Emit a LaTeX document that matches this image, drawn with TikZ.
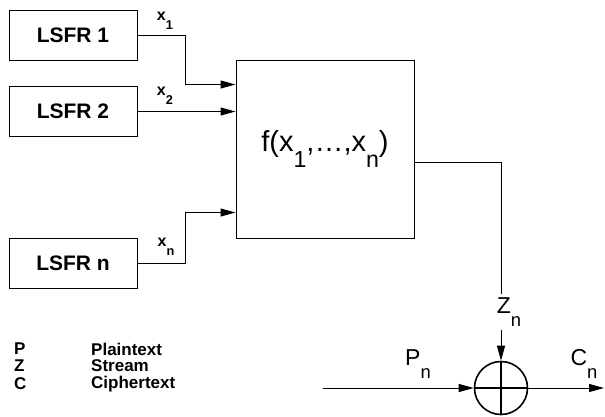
\documentclass[tikz,border=0pt]{standalone}
\usepackage{fontspec}
\setmainfont{Liberation Sans}
\usetikzlibrary{arrows.meta, positioning, calc}

\newcommand{\lowsub}[1]{\raisebox{-0.55em}{\scalebox{0.8}{#1}}}

\begin{document}
\begin{tikzpicture}[
    x=1pt, y=-1pt,
    >={Triangle[length=15pt, width=8pt]},
    every node/.style={text=black, inner sep=0pt},
    lsfrbox/.style={draw, line width=1pt, minimum width=128pt, minimum height=50pt,
      font=\fontsize{21}{24}\selectfont\bfseries},
    funcbox/.style={draw, line width=1pt, minimum width=178pt, minimum height=178pt,
      font=\fontsize{29}{32}\selectfont},
    sublabel/.style={font=\fontsize{16}{18}\selectfont\bfseries},
    siglabel/.style={font=\fontsize{23}{26}\selectfont},
    legend/.style={font=\fontsize{17}{19}\selectfont\bfseries, anchor=west},
    wire/.style={line width=1pt},
  ]

  % Background
  \useasboundingbox (0,0) rectangle (605,416);

  % Shift registers
  \node[lsfrbox] (l1) at (73,35) {LSFR 1};
  \node[lsfrbox] (l2) at (73,111.5) {LSFR 2};
  \node[lsfrbox] (ln) at (73,263) {LSFR n};

  % Combining function
  \node[funcbox] (f) at (325,149) {f(x\lowsub{1},\dots,x\lowsub{n})};

  % XOR
  \node[draw, circle, line width=1.6pt, minimum size=53pt] (xor) at (501,388) {};
  \draw[line width=1.6pt] (xor.north) -- (xor.south) (xor.west) -- (xor.east);

  % Inputs
  \draw[wire, ->] (l1.east) -- ++(48,0) |- ($(f.north west)+(0,25)$);
  \draw[wire, ->] (l2.east) -- (l2.east -| f.west);
  \draw[wire, ->] (ln.east) -- ++(48,0) |- ($(f.south west)+(0,-26)$);
  \node[sublabel] (x1) at (165,21) {x\lowsub{1}};
  \node[sublabel] (x2) at (165,96) {x\lowsub{2}};
  \node[sublabel] (xn) at (166,247) {x\lowsub{n}};

  % Key stream
  \node[siglabel, fill=white, inner sep=4pt] (zn) at (509,312) {Z\lowsub{n}};
  \draw[wire] ($(f.east)+(0,13)$) -| (zn.north -| xor.north);
  \draw[wire, ->] (zn.south -| xor.north) -- (xor.north);

  % Plaintext in, ciphertext out
  \coordinate (pin) at (323,388);
  \coordinate (cout) at (604,388);
  \draw[wire, ->] (pin) -- (xor.west);
  \draw[wire, ->] (xor.east) -- (cout);
  \node[siglabel] (pn) at (418,364) {P\lowsub{n}};
  \node[siglabel] (cn) at (584,364) {C\lowsub{n}};

  % Legend
  \node[legend] (lp) at (14,349) {P};
  \node[legend] (lz) at (14,366) {Z};
  \node[legend] (lc) at (14,384) {C};
  \node[legend] (tp) at (91,349) {Plaintext};
  \node[legend] (tz) at (91,366) {Stream};
  \node[legend] (tc) at (91,384) {Ciphertext};

\end{tikzpicture}
\end{document}
